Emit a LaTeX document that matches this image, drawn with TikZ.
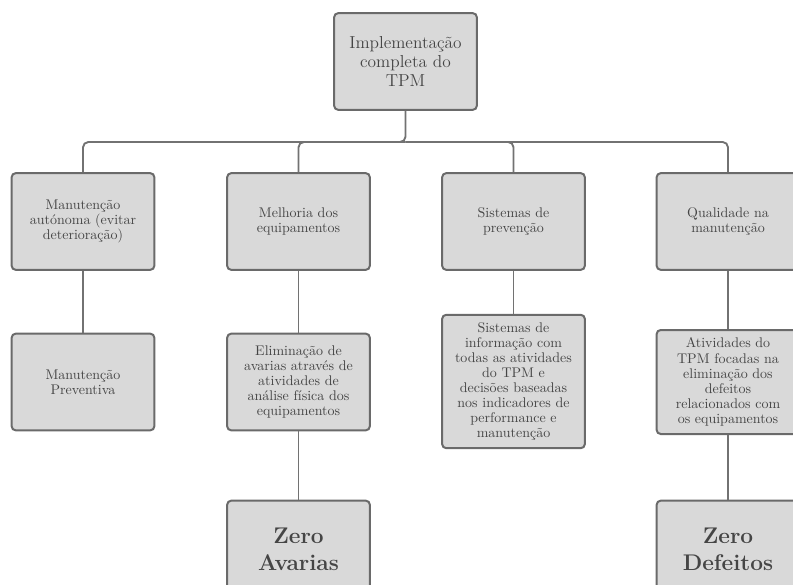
\documentclass[tikz,border=0pt]{standalone}
\usetikzlibrary{positioning}
\definecolor{boxfill}{HTML}{D9D9D9}
\definecolor{boxline}{HTML}{6A6A6A}
\definecolor{linkline}{HTML}{727272}
\definecolor{boxtext}{HTML}{454545}
\begin{document}
\begin{tikzpicture}[x=0.75pt, y=-0.75pt,
      box/.style={draw=boxline, fill=boxfill, line width=1.5pt, rounded corners=3pt,
          minimum width=107pt, minimum height=72.5pt, text width=100pt, align=center,
          text=boxtext, font=\fontsize{10.5}{11.3}\selectfont},
      link/.style={draw=linkline, line width=1.4pt, rounded corners=4pt}]
      \clip (0,0) rectangle (793,585);

      \node[box, font=\fontsize{13}{14.5}\selectfont] (tpm) at (405.5,61.5)
          {Implementação\\completa do\\TPM};

      \node[box] (autonoma) at (83,221.5) {Manutenção\\autónoma (evitar\\deterioração)};
      \node[box] (melhoria) at (298.5,221.5) {Melhoria dos\\equipamentos};
      \node[box] (prevencao) at (513.5,221.5) {Sistemas de\\prevenção};
      \node[box] (qualidade) at (728,221.5) {Qualidade na\\manutenção};

      \node[box] (preventiva) at (83,382) {Manutenção\\Preventiva};
      \node[box] (eliminacao) at (298.5,382) {Eliminação de\\avarias através de\\atividades de\\análise física dos\\equipamentos};
      \node[box, minimum height=100pt] (informacao) at (513.5,381.5)
          {Sistemas de\\informação com\\todas as atividades\\do TPM e\\decisões baseadas\\nos indicadores de\\performance e\\manutenção};
      \node[box, minimum height=78pt] (atividades) at (728,382)
          {Atividades do\\TPM focadas na\\eliminação dos\\defeitos\\relacionados com\\os equipamentos};

      \node[box, font=\fontsize{17}{20}\selectfont\bfseries] (avarias) at (298.5,549) {Zero\\Avarias};
      \node[box, font=\fontsize{17}{20}\selectfont\bfseries] (defeitos) at (728,549) {Zero\\Defeitos};

      \coordinate (bus) at (405.5,142);
      \draw[link] (tpm) -- (bus) -| (autonoma);
      \draw[link] (bus) -| (melhoria);
      \draw[link] (bus) -| (prevencao);
      \draw[link] (bus) -| (qualidade);
      \draw[link] (autonoma) -- (preventiva);
      \draw[link] (melhoria) -- (eliminacao);
      \draw[link] (prevencao) -- (informacao);
      \draw[link] (qualidade) -- (atividades);
      \draw[link] (eliminacao) -- (avarias);
      \draw[link] (atividades) -- (defeitos);
\end{tikzpicture}
\end{document}
